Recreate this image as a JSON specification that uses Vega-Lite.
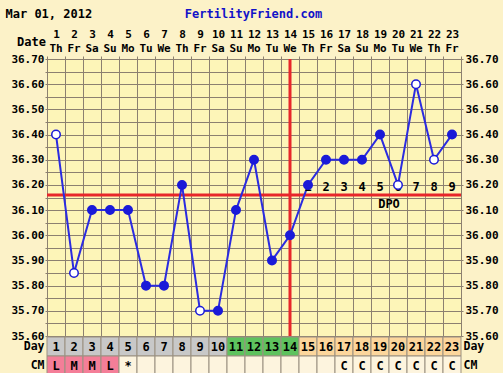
{
  "$schema": "https://vega.github.io/schema/vega-lite/v6.json",
  "autosize": "none",
  "width": 414,
  "height": 277,
  "padding": {"left": 47, "top": 59, "right": 42, "bottom": 37},
  "background": "#FCF2C8",
  "config": {
    "view": {"fill": "#FDF5B8", "stroke": "#8C8070", "strokeWidth": 1},
    "axis": {
      "labelFont": "DejaVu Sans Mono", "labelFontWeight": "bold", "labelFontSize": 11, "labelColor": "#000000",
      "titleFont": "DejaVu Sans Mono", "titleFontWeight": "bold", "titleFontSize": 12, "titleColor": "#000000",
      "labelOverlap": false, "labelFlush": false
    }
  },
  "datasets": {
    "temps": [
      {"day": 1, "temp": 36.40, "mark": "open"},
      {"day": 2, "temp": 35.85, "mark": "open"},
      {"day": 3, "temp": 36.10, "mark": "filled"},
      {"day": 4, "temp": 36.10, "mark": "filled"},
      {"day": 5, "temp": 36.10, "mark": "filled"},
      {"day": 6, "temp": 35.80, "mark": "filled"},
      {"day": 7, "temp": 35.80, "mark": "filled"},
      {"day": 8, "temp": 36.20, "mark": "filled"},
      {"day": 9, "temp": 35.70, "mark": "open"},
      {"day": 10, "temp": 35.70, "mark": "filled"},
      {"day": 11, "temp": 36.10, "mark": "filled"},
      {"day": 12, "temp": 36.30, "mark": "filled"},
      {"day": 13, "temp": 35.90, "mark": "filled"},
      {"day": 14, "temp": 36.00, "mark": "filled"},
      {"day": 15, "temp": 36.20, "mark": "filled"},
      {"day": 16, "temp": 36.30, "mark": "filled"},
      {"day": 17, "temp": 36.30, "mark": "filled"},
      {"day": 18, "temp": 36.30, "mark": "filled"},
      {"day": 19, "temp": 36.40, "mark": "filled"},
      {"day": 20, "temp": 36.20, "mark": "open"},
      {"day": 21, "temp": 36.60, "mark": "open"},
      {"day": 22, "temp": 36.30, "mark": "open"},
      {"day": 23, "temp": 36.40, "mark": "filled"}
    ],
    "dpo": [
      {"day": 15, "dpo": "1"}, {"day": 16, "dpo": "2"}, {"day": 17, "dpo": "3"},
      {"day": 18, "dpo": "4"}, {"day": 19, "dpo": "5"}, {"day": 20, "dpo": "6"},
      {"day": 21, "dpo": "7"}, {"day": 22, "dpo": "8"}, {"day": 23, "dpo": "9"}
    ],
    "table": [
      {"day": 1, "row": "Day", "text": "1", "kind": "before"},
      {"day": 2, "row": "Day", "text": "2", "kind": "before"},
      {"day": 3, "row": "Day", "text": "3", "kind": "before"},
      {"day": 4, "row": "Day", "text": "4", "kind": "before"},
      {"day": 5, "row": "Day", "text": "5", "kind": "before"},
      {"day": 6, "row": "Day", "text": "6", "kind": "before"},
      {"day": 7, "row": "Day", "text": "7", "kind": "before"},
      {"day": 8, "row": "Day", "text": "8", "kind": "before"},
      {"day": 9, "row": "Day", "text": "9", "kind": "before"},
      {"day": 10, "row": "Day", "text": "10", "kind": "before"},
      {"day": 11, "row": "Day", "text": "11", "kind": "fertile"},
      {"day": 12, "row": "Day", "text": "12", "kind": "fertile"},
      {"day": 13, "row": "Day", "text": "13", "kind": "fertile"},
      {"day": 14, "row": "Day", "text": "14", "kind": "fertile"},
      {"day": 15, "row": "Day", "text": "15", "kind": "after"},
      {"day": 16, "row": "Day", "text": "16", "kind": "after"},
      {"day": 17, "row": "Day", "text": "17", "kind": "after"},
      {"day": 18, "row": "Day", "text": "18", "kind": "after"},
      {"day": 19, "row": "Day", "text": "19", "kind": "after"},
      {"day": 20, "row": "Day", "text": "20", "kind": "after"},
      {"day": 21, "row": "Day", "text": "21", "kind": "after"},
      {"day": 22, "row": "Day", "text": "22", "kind": "after"},
      {"day": 23, "row": "Day", "text": "23", "kind": "after"},
      {"day": 1, "row": "CM", "text": "L", "kind": "menses"},
      {"day": 2, "row": "CM", "text": "M", "kind": "menses"},
      {"day": 3, "row": "CM", "text": "M", "kind": "menses"},
      {"day": 4, "row": "CM", "text": "L", "kind": "menses"},
      {"day": 5, "row": "CM", "text": "*", "kind": "blank"},
      {"day": 6, "row": "CM", "text": "", "kind": "blank"},
      {"day": 7, "row": "CM", "text": "", "kind": "blank"},
      {"day": 8, "row": "CM", "text": "", "kind": "blank"},
      {"day": 9, "row": "CM", "text": "", "kind": "blank"},
      {"day": 10, "row": "CM", "text": "", "kind": "blank"},
      {"day": 11, "row": "CM", "text": "", "kind": "blank"},
      {"day": 12, "row": "CM", "text": "", "kind": "blank"},
      {"day": 13, "row": "CM", "text": "", "kind": "blank"},
      {"day": 14, "row": "CM", "text": "", "kind": "blank"},
      {"day": 15, "row": "CM", "text": "", "kind": "blank"},
      {"day": 16, "row": "CM", "text": "", "kind": "blank"},
      {"day": 17, "row": "CM", "text": "C", "kind": "blank"},
      {"day": 18, "row": "CM", "text": "C", "kind": "blank"},
      {"day": 19, "row": "CM", "text": "C", "kind": "blank"},
      {"day": 20, "row": "CM", "text": "C", "kind": "blank"},
      {"day": 21, "row": "CM", "text": "C", "kind": "blank"},
      {"day": 22, "row": "CM", "text": "C", "kind": "blank"},
      {"day": 23, "row": "CM", "text": "C", "kind": "blank"}
    ]
  },
  "resolve": {"scale": {"y": "independent", "fill": "independent"}, "axis": {"y": "independent", "x": "independent"}},
  "layer": [
    {
      "data": {"name": "temps"},
      "mark": {"type": "line", "color": "#2B2BE0", "strokeWidth": 2},
      "encoding": {
        "x": {"field": "day", "type": "ordinal", "scale": {"domain": [1,2,3,4,5,6,7,8,9,10,11,12,13,14,15,16,17,18,19,20,21,22,23], "paddingInner": 0, "paddingOuter": 0},
              "axis": {"orient": "top", "tickBand": "extent", "grid": true, "gridColor": "#8C8070", "gridOpacity": 1, "gridWidth": 1,
                       "domain": false, "ticks": true, "tickSize": 3, "tickColor": "#8C8070", "labelAngle": 0, "labelPadding": 17,
                       "labelBaseline": "bottom",
                       "title": "Date", "titleX": -16, "titleY": -18, "titleAlign": "center", "titleBaseline": "middle", "titleFontSize": 12}},
        "y": {"field": "temp", "type": "quantitative", "scale": {"domain": [35.6, 36.7], "nice": false, "zero": false},
              "axis": {"orient": "left", "values": [35.6,35.65,35.7,35.75,35.8,35.85,35.9,35.95,36.0,36.05,36.1,36.15,36.2,36.25,36.3,36.35,36.4,36.45,36.5,36.55,36.6,36.65,36.7],
                       "grid": true, "gridColor": "#8C8070", "gridOpacity": 1, "domain": false, "tickSize": 2, "tickColor": "#8C8070",
                       "labelExpr": "abs(datum.value*10 - round(datum.value*10)) < 0.01 ? format(datum.value, '.2f') : ''",
                       "labelPadding": 1, "title": "Mar 01, 2012", "titleAngle": 0, "titleAlign": "left", "titleBaseline": "middle",
                       "titleX": -42, "titleY": -46}},
        "opacity": {"value": 0}
      }
    },
    {
      "data": {"name": "table"},
      "mark": {"type": "rect", "stroke": "#9A9080", "strokeWidth": 1},
      "encoding": {
        "x": {"field": "day", "type": "ordinal", "axis": null},
        "y": {"field": "row", "type": "ordinal", "scale": {"domain": ["Day", "CM"], "range": [278, 316], "paddingInner": 0, "paddingOuter": 0},
              "axis": {"orient": "left", "title": null, "domain": false, "ticks": false, "grid": false, "labelPadding": 3, "labelFontSize": 11.5}},
        "fill": {"field": "kind", "type": "nominal", "scale": {"domain": ["before", "fertile", "after", "menses", "blank"], "range": ["#C8C8C8", "#5EC25E", "#FCD69C", "#F47E98", "#FDF4DE"]}, "legend": null}
      }
    },
    {
      "data": {"name": "table"},
      "mark": {"type": "text", "font": "DejaVu Sans Mono", "fontWeight": "bold", "fontSize": 12, "color": "#000000"},
      "encoding": {
        "x": {"field": "day", "type": "ordinal", "axis": null},
        "y": {"field": "row", "type": "ordinal", "scale": {"domain": ["Day", "CM"], "range": [278, 316], "paddingInner": 0, "paddingOuter": 0},
              "axis": {"orient": "right", "title": null, "domain": false, "ticks": false, "grid": false, "labelPadding": 2, "labelFontSize": 11.5}},
        "text": {"field": "text"}
      }
    },
    {
      "data": {"values": [{"cover": 36.16}]},
      "mark": {"type": "rule", "color": "#E8262A", "strokeWidth": 3},
      "encoding": {
        "y": {"field": "cover", "type": "quantitative", "scale": {"domain": [35.6, 36.7], "nice": false, "zero": false}, "axis": null}
      }
    },
    {
      "data": {"values": [{"day": 14}]},
      "mark": {"type": "rule", "color": "#E8262A", "strokeWidth": 3},
      "encoding": {
        "x": {"field": "day", "type": "ordinal", "axis": null}
      }
    },
    {
      "data": {"name": "temps"},
      "mark": {"type": "line", "color": "#2B2BE0", "strokeWidth": 2},
      "encoding": {
        "x": {"field": "day", "type": "ordinal",
              "axis": {"orient": "top", "grid": false, "domain": false, "ticks": false, "labelAngle": 0, "labelPadding": 6, "labelBaseline": "bottom",
                       "labelExpr": "['Th','Fr','Sa','Su','Mo','Tu','We'][(toNumber(datum.value)-1)%7]", "title": null}},
        "y": {"field": "temp", "type": "quantitative", "scale": {"domain": [35.6, 36.7], "nice": false, "zero": false}, "axis": null}
      }
    },
    {
      "data": {"name": "dpo"},
      "mark": {"type": "text", "font": "DejaVu Sans Mono", "fontWeight": "bold", "fontSize": 12, "color": "#000000", "dy": -8},
      "encoding": {
        "x": {"field": "day", "type": "ordinal", "axis": null},
        "y": {"datum": 36.16, "type": "quantitative", "scale": {"domain": [35.6, 36.7], "nice": false, "zero": false}, "axis": null},
        "text": {"field": "dpo"}
      }
    },
    {
      "data": {"values": [{"day": 20, "label": "DPO"}]},
      "mark": {"type": "text", "font": "DejaVu Sans Mono", "fontWeight": "bold", "fontSize": 12, "color": "#000000", "dy": 9, "dx": -9},
      "encoding": {
        "x": {"field": "day", "type": "ordinal", "axis": null},
        "y": {"datum": 36.16, "type": "quantitative", "scale": {"domain": [35.6, 36.7], "nice": false, "zero": false}, "axis": null},
        "text": {"field": "label"}
      }
    },
    {
      "data": {"name": "temps"},
      "mark": {"type": "point", "shape": "circle", "filled": true, "size": 72, "stroke": "#1A1AD8", "strokeWidth": 1.5, "opacity": 1},
      "encoding": {
        "x": {"field": "day", "type": "ordinal", "axis": null},
        "y": {"field": "temp", "type": "quantitative", "scale": {"domain": [35.6, 36.7], "nice": false, "zero": false},
              "axis": {"orient": "right", "values": [35.6,35.7,35.8,35.9,36.0,36.1,36.2,36.3,36.4,36.5,36.6,36.7], "grid": false, "domain": false,
                       "tickSize": 2, "tickColor": "#8C8070", "format": ".2f", "labelPadding": 2,
                       "title": "FertilityFriend.com", "titleAngle": 0, "titleAlign": "center", "titleBaseline": "middle",
                       "titleX": -208, "titleY": -46, "titleColor": "#1212C8"}},
        "fill": {"field": "mark", "type": "nominal", "scale": {"domain": ["filled", "open"], "range": ["#1A1AD8", "#FFFFFF"]}, "legend": null}
      }
    }
  ]
}
